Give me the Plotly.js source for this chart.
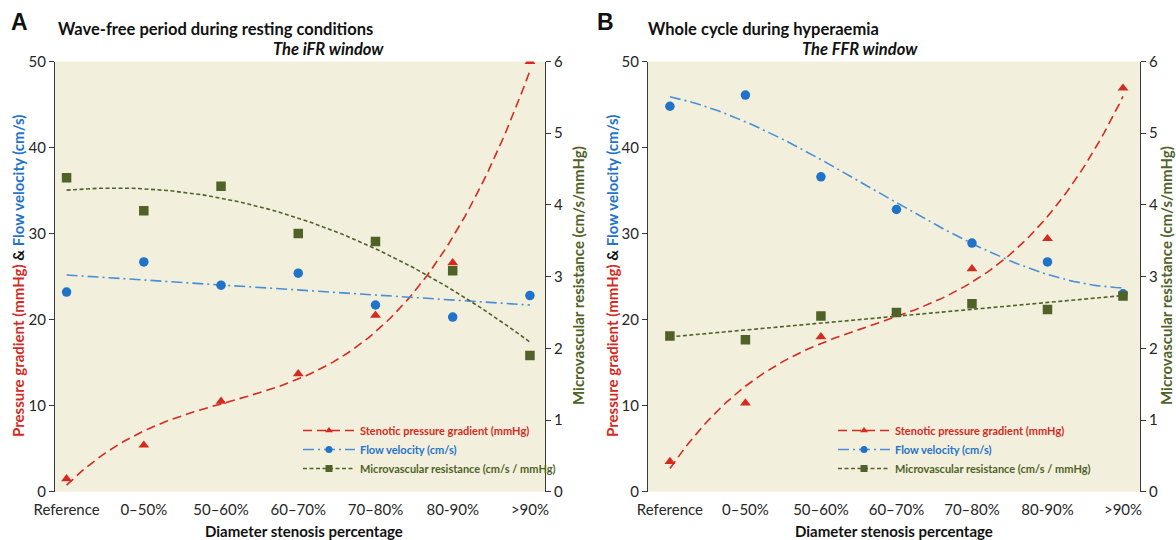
<!DOCTYPE html>
<html>
<head>
<meta charset="utf-8">
<script src="https://cdn.plot.ly/plotly-3.0.1.min.js"></script>
<style>html,body{margin:0;padding:0;background:#fff;}#chart{width:1176px;height:540px;}</style>
</head>
<body>
<div id="chart"></div>
<script>
// ---------- data ----------
const categories = ['Reference', '0–50%', '50–60%', '60–70%', '70–80%', '80-90%', '>90%'];
// Panel A – resting, iFR window
const pressureA = [1.5, 5.4, 10.5, 13.7, 20.5, 26.6, 50.0];
const velocityA = [23.2, 26.7, 24.0, 25.4, 21.7, 20.3, 22.8];
const resistanceA = [4.38, 3.92, 4.26, 3.60, 3.49, 3.08, 1.90];
// Panel B – hyperaemia, FFR window
const pressureB = [3.5, 10.3, 18.0, 20.8, 25.9, 29.4, 46.9];
const velocityB = [44.8, 46.1, 36.6, 32.8, 28.9, 26.7, 23.0];
const resistanceB = [2.17, 2.12, 2.45, 2.50, 2.62, 2.54, 2.73];
// Trendline orders (as in the original spreadsheet trendlines)
const trendOrderA = {pressure: 3, velocity: 1, resistance: 2};
const trendOrderB = {pressure: 3, velocity: 3, resistance: 1};
const seriesNames = ['Stenotic pressure gradient (mmHg)', 'Flow velocity (cm/s)', 'Microvascular resistance (cm/s / mmHg)'];

// ---------- helpers ----------
const W = 1176, H = 540;
const px = x => x / W;
const py = y => 1 - y / H;
const idx = categories.map((_, i) => i);

function polyfit(xs, ys, deg) {
  const n = deg + 1;
  const A = Array.from({length: n}, () => new Array(n + 1).fill(0));
  for (let r = 0; r < n; r++) {
    for (let c = 0; c < n; c++) {
      let s = 0; for (let k = 0; k < xs.length; k++) s += Math.pow(xs[k], r + c);
      A[r][c] = s;
    }
    let s = 0; for (let k = 0; k < xs.length; k++) s += ys[k] * Math.pow(xs[k], r);
    A[r][n] = s;
  }
  for (let i = 0; i < n; i++) {
    let p = i; for (let r = i + 1; r < n; r++) if (Math.abs(A[r][i]) > Math.abs(A[p][i])) p = r;
    [A[i], A[p]] = [A[p], A[i]];
    for (let r = 0; r < n; r++) if (r !== i) {
      const f = A[r][i] / A[i][i];
      for (let c = i; c <= n; c++) A[r][c] -= f * A[i][c];
    }
  }
  return A.map((row, i) => row[n] / row[i]);
}
function trend(ys, deg) {
  const co = polyfit(idx, ys, deg);
  const xs = [], out = [];
  const last = idx[idx.length - 1];
  for (let i = 0; i <= 120; i++) {
    const x = last * i / 120;
    xs.push(x);
    out.push(co.reduce((s, c, k) => s + c * Math.pow(x, k), 0));
  }
  return {x: xs, y: out};
}

const RED = '#d52a1f', BLUE = '#1f73c9', BLUE_L = '#4a8ed8', GREEN = '#4f6228';
const FONT = 'Lato, "Open Sans", sans-serif';
const dashR = '9px,5px', dashB = '11px,4px,2px,4px', dashG = '4px,2.5px';

function panelTraces(p, v, r, ord, xa, yl, yr, lg) {
  const tp = trend(p, ord.pressure), tv = trend(v, ord.velocity), tr = trend(r, ord.resistance);
  return [
    {x: tp.x, y: tp.y, xaxis: xa, yaxis: yl, mode: 'lines', line: {color: RED, width: 1.6, dash: dashR}, showlegend: false, hoverinfo: 'skip'},
    {x: tv.x, y: tv.y, xaxis: xa, yaxis: yl, mode: 'lines', line: {color: BLUE_L, width: 1.6, dash: dashB}, showlegend: false, hoverinfo: 'skip'},
    {x: tr.x, y: tr.y, xaxis: xa, yaxis: yr, mode: 'lines', line: {color: GREEN, width: 1.6, dash: dashG}, showlegend: false, hoverinfo: 'skip'},
    {x: idx, y: v, xaxis: xa, yaxis: yl, mode: 'markers', marker: {symbol: 'circle', size: 9.5, color: BLUE}, showlegend: false},
    {x: idx, y: r, xaxis: xa, yaxis: yr, mode: 'markers', marker: {symbol: 'square', size: 9.5, color: GREEN}, showlegend: false},
    {x: idx, y: p, xaxis: xa, yaxis: yl, mode: 'markers', marker: {symbol: 'triangle-up', size: 9.5, color: RED}, showlegend: false},
    // legend entries
    {x: [null], y: [null], xaxis: xa, yaxis: yl, mode: 'lines+markers', legend: lg,
     name: '<span style="color:' + RED + '">' + seriesNames[0] + '</span>',
     line: {color: RED, width: 1.6, dash: dashR}, marker: {symbol: 'triangle-up', size: 7, color: RED}},
    {x: [null], y: [null], xaxis: xa, yaxis: yl, mode: 'lines+markers', legend: lg,
     name: '<span style="color:' + BLUE + '">' + seriesNames[1] + '</span>',
     line: {color: BLUE_L, width: 1.6, dash: dashB}, marker: {symbol: 'circle', size: 7, color: BLUE}},
    {x: [null], y: [null], xaxis: xa, yaxis: yr, mode: 'lines+markers', legend: lg,
     name: '<span style="color:' + GREEN + '">' + seriesNames[2] + '</span>',
     line: {color: GREEN, width: 1.6, dash: dashG}, marker: {symbol: 'square', size: 7, color: GREEN}}
  ];
}

const data = [].concat(
  panelTraces(pressureA, velocityA, resistanceA, trendOrderA, 'x', 'y', 'y2', 'legend'),
  panelTraces(pressureB, velocityB, resistanceB, trendOrderB, 'x2', 'y3', 'y4', 'legend2')
);

const tickFont = {family: FONT, size: 15, color: '#262626'};
const yDom = [py(491.7), py(61.5)];
function xAxis(dom, range) {
  return {domain: dom, range: range, tickvals: idx, ticktext: categories, showline: false, ticks: '',
          ticklabelstandoff: 7, showgrid: false, zeroline: false, tickfont: tickFont, fixedrange: true};
}
function yAxis(extra) {
  return Object.assign({domain: yDom, showgrid: false, zeroline: false, showline: true, linecolor: '#3a3a3a', linewidth: 1,
          ticks: 'outside', ticklen: 5, tickcolor: '#3a3a3a', tickfont: tickFont, fixedrange: true}, extra);
}

const leftTitle = '<span style="color:' + RED + '">Pressure gradient (mmHg)</span> <span style="color:#111">&amp;</span> <span style="color:' + BLUE + '">Flow velocity (cm/s)</span>';
const rightTitle = '<span style="color:' + GREEN + '">Microvascular resistance (cm/s/mmHg)</span>';
function ann(text, x, y, opts) {
  return Object.assign({text: text, x: px(x), y: py(y), xref: 'paper', yref: 'paper', showarrow: false,
    xanchor: 'center', yanchor: 'middle', font: {family: FONT, size: 15, color: '#111', weight: 'bold'}}, opts || {});
}
const titleFont = {family: FONT, size: 16.5, color: '#111', weight: 'bold'};
const letterFont = {family: 'Liberation Sans, Arial, sans-serif', size: 23, color: '#111', weight: 'bold'};

const layout = {
  width: W, height: H,
  margin: {l: 0, r: 0, t: 0, b: 0},
  paper_bgcolor: '#ffffff',
  plot_bgcolor: '#f3efdd',
  font: {family: FONT},
  xaxis: xAxis([px(55), px(545)], [-0.15, 6.195]),
  yaxis: yAxis({anchor: 'x', range: [0, 50], dtick: 10}),
  yaxis2: yAxis({anchor: 'x', overlaying: 'y', side: 'right', range: [0, 6], dtick: 1}),
  xaxis2: xAxis([px(648), px(1140)], [-0.29, 6.225]),
  yaxis3: yAxis({anchor: 'x2', range: [0, 50], dtick: 10}),
  yaxis4: yAxis({anchor: 'x2', overlaying: 'y3', side: 'right', range: [0, 6], dtick: 1}),
  legend: {x: px(298), y: py(416), xanchor: 'left', yanchor: 'top', bgcolor: 'rgba(0,0,0,0)', itemwidth: 52,
           font: {family: FONT, size: 11, weight: 'bold'}, tracegroupgap: 0},
  legend2: {x: px(833), y: py(416), xanchor: 'left', yanchor: 'top', bgcolor: 'rgba(0,0,0,0)', itemwidth: 52,
           font: {family: FONT, size: 11, weight: 'bold'}, tracegroupgap: 0},
  annotations: [
    ann('A', 19, 22, {font: letterFont}),
    ann('Wave-free period during resting conditions', 56, 29, {xanchor: 'left', font: titleFont}),
    ann('<i>The iFR window</i>', 328, 49, {font: titleFont}),
    ann('B', 605, 22, {font: letterFont}),
    ann('Whole cycle during hyperaemia', 646, 29, {xanchor: 'left', font: titleFont}),
    ann('<i>The FFR window</i>', 860, 49, {font: titleFont}),
    ann(leftTitle, 18, 276, {textangle: -90}),
    ann(rightTitle, 578, 276, {textangle: -90}),
    ann(leftTitle, 612, 276, {textangle: -90}),
    ann(rightTitle, 1166, 276, {textangle: -90}),
    ann('Diameter stenosis percentage', 304, 531),
    ann('Diameter stenosis percentage', 894, 531)
  ]
};

Plotly.newPlot('chart', data, layout, {displayModeBar: false, staticPlot: true});
</script>
</body>
</html>
